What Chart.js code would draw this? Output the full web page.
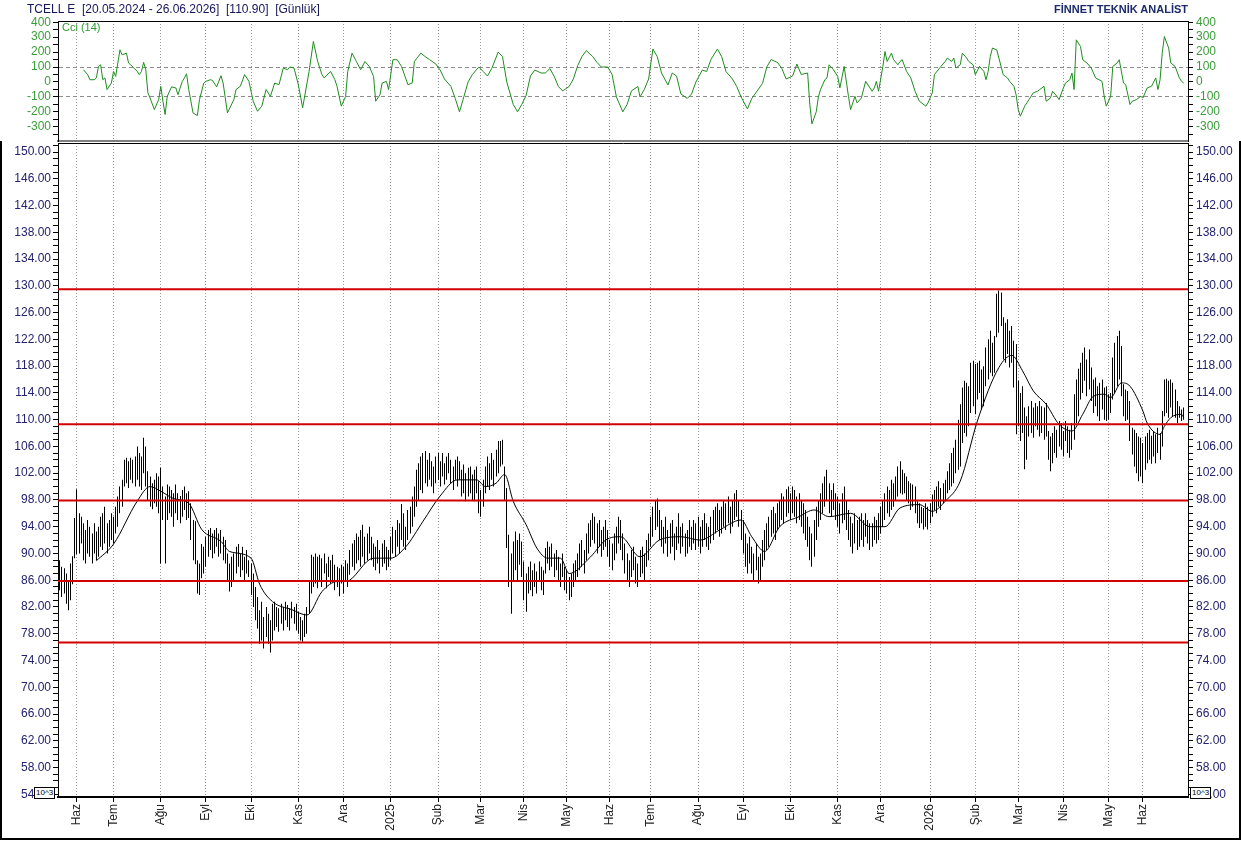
<!DOCTYPE html>
<html><head><meta charset="utf-8">
<script src="https://cdn.jsdelivr.net/npm/chart.js@4.4.1/dist/chart.umd.min.js"></script>
<style>
html,body{margin:0;padding:0;background:#fff;}
#wrap{position:relative;width:1241px;height:841px;overflow:hidden;font-family:"Liberation Sans",Arial,sans-serif;background:#fff;}
canvas{position:absolute;left:0;}
#cciCanvas{top:8px;}
#mainCanvas{top:142px;}
.t{position:absolute;white-space:nowrap;}
#title{left:27px;top:2px;font-size:12px;color:#15155a;}
#brand{right:53px;top:3px;font-size:11px;font-weight:bold;color:#1b2a6b;}
#cciLbl{left:62px;top:21px;font-size:11px;color:#2e9a2e;}
.pw{position:absolute;top:787px;height:10px;border:1px solid #000;background:#fff;font-size:8px;line-height:10px;padding:0 1px;color:#000;}
#frame{position:absolute;left:0;top:141px;width:1237px;height:697px;border-left:2px solid #000;border-right:2px solid #000;border-bottom:2px solid #000;pointer-events:none;}
</style></head>
<body><div id="wrap">
<canvas id="cciCanvas" width="1241" height="135"></canvas>
<canvas id="mainCanvas" width="1241" height="699"></canvas>
<div id="frame"></div>
<div class="t" id="title">TCELL E&nbsp; [20.05.2024 - 26.06.2026]&nbsp; [110.90]&nbsp; [Günlük]</div>
<div class="t" id="brand">FİNNET TEKNİK ANALİST</div>
<div class="t" id="cciLbl">Cci (14)</div>
<div class="pw" style="left:34px;">10^3</div>
<div class="pw" style="left:1190px;">10^3</div>
</div>
<script>
// ---- data (day index 0 = 20.05.2024, 525 = 26.06.2026) ----
const monthIdx = [10,27,49,70,91,113,134,156,178,198,218,238,258,277,299,320,342,364,384,407,428,448,469,490,506];
const monthLbl = ['Haz','Tem','Ağu','Eyl','Eki','Kas','Ara','2025','Şub','Mar','Nis','May','Haz','Tem','Ağu','Eyl','Eki','Kas','Ara','2026','Şub','Mar','Nis','May','Haz'];

const lows = [
85,86,84.5,83.5,84,82.5,81.5,83,85.4,89.3,
89.9,90,91.5,89,88.5,90,89.5,88.5,90,89,
89.5,91,90.5,91.5,90,91,92,91.5,93,94,
96,97,100,100.5,99.8,101,100.5,100,101,100,
99.5,102,100,98,97,96.6,97.5,97,96,88.5,
95,88.5,95,96,95.5,94,96,95,94.5,95.5,
96.5,95,95.3,92,89,88.4,84,83.8,86.3,87,
88,89.5,90.5,89.3,90,91,89.5,90,89,88.5,
86,84.3,85,86,87,88,86.5,87.5,86,87,
86.5,83.8,82,80,78.8,76.5,77,75.8,77.5,76.5,
75.2,77,78.5,79,78.3,79.5,78.5,80,79,78.5,
80.3,79.5,78.5,78,77,76.8,77.5,78,81,84,
85,85.5,84.8,86,85,87,84.8,86.5,85.5,86,
84.5,85,83.6,85.5,84,86,85,86.8,88,87.5,
88.5,89,88,89.5,88.5,89,90,89,88,87.5,
88.5,87,88,88.5,87.5,88,89,90,89.5,91,
90,92,91,90.5,92,93,94,95.5,97,98,
99.5,99,100.5,100,101,100,99,100.5,101,100,
101.5,100.3,101,102,100.5,99.5,101,100,101,98.5,
99,97.8,98.5,99,98,97.8,99,96,95.5,97,
99,100,99.5,101,100,101.5,102,103,103.3,98,
90.8,85,81,86,87.5,85.8,88.3,86.5,83,81.3,
84,84.5,83.6,85,84,85.8,84.5,83.8,87,88.5,
87.5,88,86.5,87.5,86,85,86.5,84.5,84,83,
83.5,85,86,86.5,87.5,88,87,89,90,91,
92,91.5,90,91,89.5,90.5,91,89.5,88,87.5,
89,90,91.5,90.5,89,87,86,85,86.5,87.5,
85.5,85,86.5,87,86,88,89,91,92.5,93.5,
94,92,91,90,91.5,89.5,90,91,89,90.5,
91.5,90,91,89.5,90,91,90.5,91.5,90.5,91,
90,91,92,91,90.5,91.5,92,93,93.5,92.5,
93,94,93.5,94.5,93,94,95,95.5,94,92,
90,88,87,88.5,87,86,87.5,85.5,86,88,
89,90.5,91,92.5,93,92,93.5,94,95,94.5,
95.5,96,95,96,95.5,94.5,95,94,93,92,
91,89,88,89.5,92,94,95,96,97,98,
96,95.5,96.5,95,94,93,94.5,95,93.5,92,
91,90,91.5,90.5,91,92,91,92.5,91.5,90.5,
91,92,91.5,92,93,94,95,96,95.5,96.5,
97,98,98.5,99,98.8,99,98,97.5,96.5,97,
96,94.5,93.8,94.5,93.6,94,93.6,94.5,95.5,96.5,
96,97,96.5,97.5,98,99,99.5,100,100.5,102,
102.5,103,106.5,108,107.5,109,111,112,110.8,113,
114,111.5,112,115,116,117,116.5,117,122.3,123,
124,119,118.5,119.8,117.8,118.5,114.8,107.8,109,106.8,
108,102.6,104,107.5,108,107.3,109,108.5,107.5,108,
107,107.5,104,102.3,103.5,105,104.3,106,105.5,104.5,
106.8,105,104.3,105.5,107,109.5,110.5,113,114,115.8,
113.5,114.5,112.8,111,112,110.5,109.8,111.5,110,109.8,
110,111,113,114,115,116,113.5,110.5,109.8,110,
106.8,104.8,103,102,100.8,101.5,100.5,102.5,103.5,104,
103.4,104.5,103.5,105,104,106,110.5,111,110.3,111.8,
110.5,110.3,109.5,110.3,109.8,110
];
const highs = [
89,89.5,89,88,87.8,87,86,88.5,89.6,95.3,
99.6,96,95.5,94.5,93.5,95,94,93,94.5,93.3,
94,95.5,96,97,94.5,95,96,95.5,97,98.5,
100,101,104,104.3,103.8,104.3,104,104.5,106,105,
104.5,107.3,106,102.3,101.5,100.5,101,102,101.5,102.8,
100,98.5,100.3,100,99.5,99,100.3,99,98.6,99.5,
100,99,99.3,97.5,95,94.8,89,88.5,91.4,91,
92.5,93.5,93.8,93,93.5,93.8,93,93.5,92.5,92,
90,88.5,89.5,90,91,91.4,90,91,89.5,90.5,
89,88.5,87,85,83.5,81.5,82.8,80.5,82,81,
80,82.5,82.8,82,81.8,82.5,82,82.8,82.3,81.8,
82.8,82,82.5,81.3,80.5,80,81,82,86,89.8,
89.5,90,89.5,89.8,89.3,90,88.5,89.5,89,89.8,
88.3,88,87.8,88.3,88,89,88.5,90.5,91.5,92,
93,92.5,93.5,94.3,92.5,93,94,92.5,91.5,91,
92,90.5,91.5,92,91,90.5,92.5,94,93.5,95,
94.5,97.4,96,94,96.5,97,98.5,100,102.5,103.5,
104.5,105,105.3,104,105,103.8,103,104.5,105,103.8,
105,103.5,104.5,105,104,103,104,104.5,103.8,102.5,
103.3,102,102.8,103,101.8,102.5,103,100.8,99.5,101,
103,104.5,103.5,105,104,105.5,106.8,106.8,107,103,
99.8,92.8,90,91.8,93.3,92,93,91.8,88.8,87,
88,88.8,87.5,88.5,87.3,88.8,88,87.5,90.8,91.8,
91,91.5,90,90.5,89.5,88.5,90,88,87.5,86.5,
87,88.5,89,90,91.5,92,90.5,93,94.5,95,
96,95.5,94.5,95,93.5,94,95,93.5,92,91.5,
93,94,95.5,95,93,91.5,90,89,90.5,91,
89.5,88.5,90.5,91,90,92,93,95.5,97,98,
98.2,96.5,95,94,95.5,93.5,94.5,95,93,94,
96,94,94.5,93,93.5,95,94,95,94.5,95.5,
94,95,96,94.5,94,95.5,96.5,97,97.5,96.5,
97,98,97.5,98.5,97,98,99,99.5,98,96.5,
95,93,91.5,92.5,91,90,91.5,89.5,90,92,
93.5,94.5,95.5,96.5,97,96,97.5,98,99,98.5,
99.6,100,99,100,99.5,98.5,99,98,97.5,96.5,
95.5,94,93,95,97,98,99,100.5,101.5,102.5,
100.5,99.5,100.5,99,98.5,97.5,99,100,98,96.5,
95.5,94.5,96,95,95.5,96,95,96,95,94.5,
94.5,95.5,95,96,97,98,99,100,99.5,101,
100.5,101.5,103,103.8,102.5,102,101.5,100.8,100.5,100.3,
100,97.8,97.5,97,96.8,97.5,97,97.5,98.8,99.5,
100,100.8,99.8,100.5,101,102.3,103.5,105,105.8,107,
110,112.3,114.8,115.8,115.5,115,118.5,118.8,118.3,118.5,
118.8,117.5,118,120.8,122,123.3,121.5,122.5,128.8,129.3,
129,125.3,124.5,125,123.3,124,121.8,121.3,115.8,114,
115,111.8,110.5,112,112.8,111.8,112.5,112,112.8,112,
111.8,112.5,108.3,107.5,108,109,108.5,109.8,109.5,108.3,
109.8,109,108.5,109.5,113.8,116,117.6,118.5,120,120.8,
119,120.5,117.8,116,116.3,115,115.5,116,114.8,115,
113.8,114,119.3,121.5,122.5,123.3,121,115.3,114.5,114.3,
112.8,108.8,108.5,108,107.5,107.3,106.5,107.5,108,108.5,
107.6,108.3,107.8,108.8,108,111.3,116,116.1,115.8,116,
115.5,114.5,112.8,112,111.5,111.8
];
// 20-day moving average
const maDay = [19,27,38,44,49,55,62,68,77,81,91,95,101,110,117,124,131,135,148,156,163,171,179,187,196,200,205,209,213,219,224,229,235,239,249,256,263,272,281,291,300,309,319,324,330,337,346,353,360,370,379,386,393,402,408,414,421,429,439,445,450,455,461,467,473,478,483,488,491,496,500,506,508,514,516,519,524,525];
const maVal = [88.9,91.4,97.8,100,99.3,98.2,97.5,93.6,91.8,90.3,89.3,85.4,82.8,81.6,80.8,84.3,85.8,85.8,89.3,89.3,91,94.8,98.6,101,101,100,100.5,101.8,97.8,94.3,90.8,89.3,89.3,87,89.5,92,92.5,89.5,92,92.5,92,93.5,95,92.5,90.3,94,95.5,96.5,95.5,96,94,94,96.8,97.3,96.3,97.8,100.8,109.8,117.8,119.6,117.3,114.3,112.3,109.3,108.3,110.8,113.5,113.8,113.3,115.5,115,111.3,109.5,107.8,109,110.3,110.8,110.3];
// CCI(14)
const cciDay = [13,15,16,18,19,20,21,22,23,24,26,27,28,29,30,31,33,34,35,38,39,40,41,42,43,44,46,48,49,50,51,52,54,56,57,59,60,61,62,64,66,67,69,70,72,73,75,77,78,80,83,84,86,88,90,92,94,96,98,100,102,104,106,108,109,111,113,115,118,120,122,124,125,128,130,131,133,135,136,138,140,142,144,146,148,149,151,152,154,155,157,159,161,164,166,167,170,
172,174,177,179,181,184,186,188,190,192,194,197,199,201,203,206,208,210,213,215,217,219,221,223,226,228,230,232,234,236,239,241,243,245,247,250,252,254,257,259,261,264,266,268,271,272,274,276,278,280,282,285,287,289,291,294,296,298,301,303,305,308,310,312,315,317,319,322,324,326,329,331,333,336,338,340,343,345,347,350,351,352,354,355,
356,358,359,360,362,364,365,367,369,370,372,373,375,377,380,381,382,383,385,386,387,389,390,392,393,394,396,398,400,402,405,406,408,409,412,414,415,417,418,419,421,422,424,425,427,428,430,432,433,434,435,436,438,439,441,443,444,446,447,448,449,451,452,453,455,457,458,460,461,463,464,466,467,469,470,472,473,474,475,477,478,480,482,484,487,488,489,491,492,494,495,497,498,500,501,503,505,506,508,510,512,513,514,515,516,518,519,521,523,524,525];
const cciVal = [82,48,15,15,27,104,115,15,27,-51,-7,71,37,127,215,182,193,127,115,71,49,71,131,82,-73,-107,-185,-118,-29,-129,-218,-96,-33,-40,-85,4,27,55,-51,-207,-225,-118,-7,4,15,11,-33,42,-7,-207,-118,-51,-29,49,4,-129,-196,-162,-51,-96,-7,-18,93,82,100,93,-18,-173,71,271,137,49,27,71,15,-29,-162,-96,71,193,137,82,137,104,37,-129,-85,-7,4,-51,149,149,104,-18,-7,137,193,
170,150,120,80,20,-30,-110,-200,-100,0,50,100,70,40,90,200,170,0,-150,-200,-150,-90,40,80,60,60,90,40,-30,-60,-30,20,110,170,210,170,130,100,100,50,-100,-200,-150,-60,-30,-100,-50,20,220,170,60,-20,60,40,-80,-110,-80,0,80,70,150,220,170,70,20,-30,-100,-180,-110,-70,-10,100,150,130,90,20,40,120,50,60,-150,-280,-200,-100,
-51,15,27,115,82,37,-40,104,-96,-185,-96,-140,-107,4,-62,-40,4,-62,104,204,137,193,149,115,137,149,71,27,-62,-129,-162,-140,-73,49,104,137,160,137,160,93,115,193,160,137,115,49,104,71,15,71,171,227,215,160,49,27,4,-29,-85,-185,-229,-162,-140,-118,-73,-62,-51,-29,-129,-107,-62,-96,-118,-40,-7,15,60,-51,282,237,149,127,93,27,4,-96,-162,-96,104,127,149,-7,-18,-151,-129,-118,-96,-107,-40,-29,27,-51,15,193,304,227,127,104,27,4,-7];
// horizontal support / resistance levels
const levels = [129.5, 109.3, 97.9, 85.9, 76.7];
const priceTicks = [54,58,62,66,70,74,78,82,86,90,94,98,102,106,110,114,118,122,126,130,134,138,142,146,150];
const cciTicks = [-300,-200,-100,0,100,200,300,400];

// ---- layout constants ----
const X_MIN = 1.16, X_MAX = 527;
const Y_MIN = 53.6, Y_MAX = 151.35;
const C_MIN = -395, C_MAX = 408;
const FONT = '"Liberation Sans", Arial, sans-serif';
Chart.defaults.font.family = FONT;

const minorPrice = [];
for (let v = 54; v <= 151; v++) minorPrice.push(v);
const minorCci = [];
for (let v = -350; v <= 400; v += 50) minorCci.push(v);

function monthTicks(s){ s.ticks = monthIdx.map(v => ({value: v})); }

// snap the 1px HL bars to the pixel grid so they render crisp
const snapBars = {
  id: 'snapBars',
  beforeDatasetDraw(chart, args) {
    const meta = args.meta;
    if (meta.type !== 'bar') return;
    meta.data.forEach(el => { el.x = Math.floor(el.x) + 0.5; el.width = 1; });
  }
};

// ---------- CCI panel ----------
new Chart(document.getElementById('cciCanvas'), {
  type: 'line',
  data: { datasets: [{
    data: cciDay.map((d, i) => ({x: d, y: cciVal[i]})),
    borderColor: '#1f8c1f', borderWidth: 1, pointRadius: 0, tension: 0
  }]},
  options: {
    responsive: false, animation: false, events: [],
    layout: {padding: {top: 13, left: 0, right: 0, bottom: 0}},
    plugins: {legend: {display: false}, tooltip: {enabled: false}},
    scales: {
      x: {type: 'linear', position: 'bottom', min: X_MIN, max: X_MAX,
          afterBuildTicks: monthTicks,
          afterFit: s => { s.height = 2; s.paddingLeft = 0; s.paddingRight = 0; },
          ticks: {display: false},
          grid: {color: '#9a9a9a', lineWidth: 1, drawTicks: false},
          border: {display: true, color: '#808080', width: 2, dash: [1, 2]}},
      xt: {type: 'linear', position: 'top', min: X_MIN, max: X_MAX,
          afterFit: s => { s.height = 0; },
          ticks: {display: false}, grid: {display: false, drawTicks: false},
          border: {display: true, color: '#000', width: 1}},
      y: {position: 'left', min: C_MIN, max: C_MAX,
          afterBuildTicks: s => { s.ticks = minorCci.map(v => ({value: v})); },
          afterFit: s => { s.width = 58; s.paddingTop = 0; s.paddingBottom = 0; },
          ticks: {autoSkip: false, padding: 2, color: '#3a9d3a', font: {size: 12},
                  callback: v => cciTicks.includes(v) ? String(v) : ''},
          grid: {color: c => (c.tick && Math.abs(c.tick.value) === 100) ? '#8c8c8c' : 'rgba(0,0,0,0)',
                 tickColor: '#000', tickLength: 5, lineWidth: 1},
          border: {display: true, color: '#000', width: 1, dash: [4, 3]}},
      yR: {position: 'right', min: C_MIN, max: C_MAX,
          afterBuildTicks: s => { s.ticks = minorCci.map(v => ({value: v})); },
          afterFit: s => { s.width = 53; s.paddingTop = 0; s.paddingBottom = 0; },
          ticks: {autoSkip: false, padding: 3, color: '#3a9d3a', font: {size: 12},
                  callback: v => cciTicks.includes(v) ? String(v) : ''},
          grid: {drawOnChartArea: false, tickColor: '#000', tickLength: 5},
          border: {display: true, color: '#000', width: 1}}
    }
  }
});

// ---------- price panel ----------
const priceDatasets = [
  {type: 'bar', data: highs.map((h, i) => ({x: i, y: [lows[i], h]})),
   backgroundColor: '#000', borderWidth: 0, barThickness: 1, inflateAmount: 0, order: 3},
  {type: 'line', data: maDay.map((d, i) => ({x: d, y: maVal[i]})),
   borderColor: '#000', borderWidth: 1, pointRadius: 0, cubicInterpolationMode: 'monotone', order: 2}
];
levels.forEach(v => priceDatasets.push({
  type: 'line', data: [{x: X_MIN, y: v}, {x: X_MAX, y: v}],
  borderColor: '#d20000', borderWidth: 2, pointRadius: 0, order: 1
}));

new Chart(document.getElementById('mainCanvas'), {
  type: 'bar',
  data: {datasets: priceDatasets},
  plugins: [snapBars],
  options: {
    responsive: false, animation: false, events: [],
    layout: {padding: {top: 1, left: 0, right: 0, bottom: 0}},
    plugins: {legend: {display: false}, tooltip: {enabled: false}},
    scales: {
      x: {type: 'linear', position: 'bottom', min: X_MIN, max: X_MAX, offset: false,
          afterBuildTicks: monthTicks,
          afterFit: s => { s.height = 44; s.paddingLeft = 0; s.paddingRight = 0; },
          ticks: {autoSkip: false, minRotation: 90, maxRotation: 90, padding: 2,
                  color: '#222', font: {size: 12},
                  callback: (v, i) => monthLbl[i]},
          grid: {color: '#9a9a9a', lineWidth: 1, tickLength: 5, tickColor: '#000', offset: false},
          border: {display: true, color: '#000', width: 2, dash: [1, 2]}},
      xt: {type: 'linear', position: 'top', min: X_MIN, max: X_MAX,
          afterFit: s => { s.height = 0; },
          ticks: {display: false}, grid: {display: false, drawTicks: false},
          border: {display: true, color: '#000', width: 1}},
      y: {position: 'left', min: Y_MIN, max: Y_MAX,
          afterBuildTicks: s => { s.ticks = minorPrice.map(v => ({value: v})); },
          afterFit: s => { s.width = 58; s.paddingTop = 0; s.paddingBottom = 0; },
          ticks: {autoSkip: false, padding: 2, color: '#22226e', font: {size: 12},
                  callback: v => priceTicks.includes(v) ? v.toFixed(2) : ''},
          grid: {drawOnChartArea: false, tickColor: '#000', tickLength: 5},
          border: {display: true, color: '#000', width: 1}},
      yR: {position: 'right', min: Y_MIN, max: Y_MAX,
          afterBuildTicks: s => { s.ticks = minorPrice.map(v => ({value: v})); },
          afterFit: s => { s.width = 53; s.paddingTop = 0; s.paddingBottom = 0; },
          ticks: {autoSkip: false, padding: 3, color: '#22226e', font: {size: 12},
                  callback: v => priceTicks.includes(v) ? v.toFixed(2) : ''},
          grid: {drawOnChartArea: false, tickColor: '#000', tickLength: 5},
          border: {display: true, color: '#000', width: 1}}
    }
  }
});
</script>
</body></html>
